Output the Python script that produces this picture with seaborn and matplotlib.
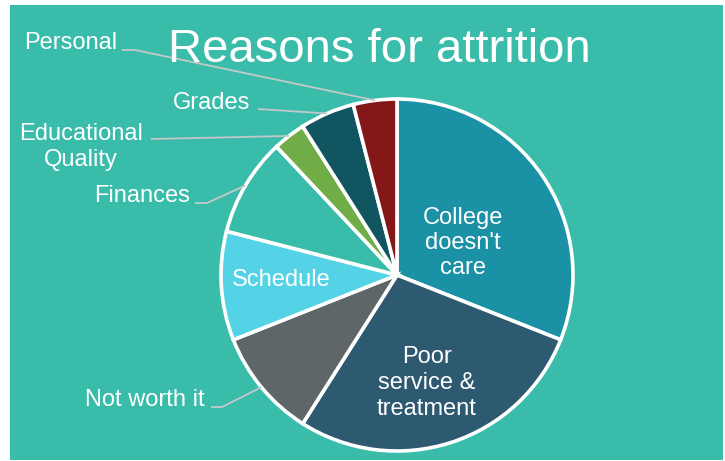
import numpy as np
import matplotlib
matplotlib.use("Agg")
import matplotlib.pyplot as plt
from matplotlib.patches import Rectangle
import seaborn as sns

# Share of students citing each reason (percent), clockwise from 12 o'clock
reasons = ["College doesn't care", "Poor service & treatment", "Not worth it",
           "Schedule", "Finances", "Educational Quality", "Grades", "Personal"]
shares = [31, 28, 10, 10, 9, 3, 5, 4]
colors = ["#1A91A4", "#2D5A71", "#5E6668", "#54D3E6",
          "#39BCAA", "#70AD47", "#115560", "#841718"]

BG = "#3ABCAB"
LEADER = "#C3C9C7"
W, H = 725, 461

sns.set_theme(style="white")
plt.rcParams["font.family"] = ["Liberation Sans", "DejaVu Sans"]

fig = plt.figure(figsize=(W / 100, H / 100), dpi=100, facecolor="white")
ax = fig.add_axes([0, 0, 1, 1])

# teal slide panel
ax.add_patch(Rectangle((10, 1), 713, 455, facecolor=BG, edgecolor="none", zorder=0))

cx, cy, R = 397, H - 275, 176
wedges, _ = ax.pie(shares, colors=colors, startangle=90, counterclock=False,
                   center=(cx, cy), radius=R, frame=True,
                   wedgeprops=dict(edgecolor="white", linewidth=2.6))
ax.set_xlim(0, W)
ax.set_ylim(0, H)
ax.set_aspect("equal")
ax.axis("off")


def edge_point(w):
    ang = np.deg2rad((w.theta1 + w.theta2) / 2)
    return cx + R * np.cos(ang), cy + R * np.sin(ang)


def y(v):
    return H - v


txt = dict(color="white", fontsize=17)

# title
ax.text(379, y(62), "Reasons for attrition", ha="center", va="baseline",
        color="white", fontsize=34)

# labels inside the large slices
ax.text(463, y(243), "College\ndoesn't\ncare", ha="center", va="center",
        linespacing=1.2, **txt)
ax.text(427, y(383), "Poor\nservice &\ntreatment", ha="center", va="center",
        linespacing=1.22, **txt)
ax.text(281, y(280), "Schedule", ha="center", va="center", **txt)

# outside labels with leader lines (baseline of the last text line)
outside = {
    "Personal": dict(pos=(117, 49), ha="right", path=[(122, 50), (135, 50)]),
    "Grades": dict(pos=(250, 109), ha="right", path=[(258, 109)]),
    "Educational Quality": dict(pos=(81, 166), ha="center", text="Educational\nQuality",
                                path=[(151, 139)]),
    "Finances": dict(pos=(190, 202), ha="right", path=[(195, 203), (207, 203)]),
    "Not worth it": dict(pos=(205, 406), ha="right", path=[(211, 407), (222, 407)]),
}
for name, spec in outside.items():
    w = wedges[reasons.index(name)]
    label = spec.get("text", name)
    ax.text(spec["pos"][0], y(spec["pos"][1]), label, ha=spec["ha"],
            va="baseline", linespacing=1.25, multialignment="center", **txt)
    px, py = edge_point(w)
    xs = [p[0] for p in spec["path"]] + [px]
    ys = [y(p[1]) for p in spec["path"]] + [py]
    ax.plot(xs, ys, color=LEADER, linewidth=1.3, zorder=1, solid_capstyle="butt")

fig.savefig("out.png", dpi=100, facecolor="white")
